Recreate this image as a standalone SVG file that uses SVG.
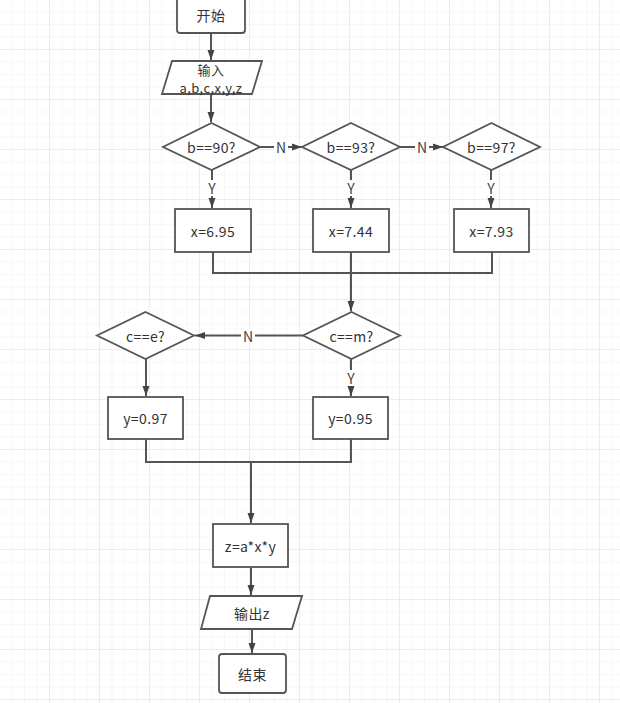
<svg xmlns="http://www.w3.org/2000/svg" width="620" height="703" viewBox="0 0 620 703">
<defs>
<pattern id="minor" width="12.5" height="12.5" patternUnits="userSpaceOnUse">
<path d="M12.5 0V12.5M0 12.5H12.5" fill="none" stroke="#efefef" stroke-width="1"/>
</pattern>
<pattern id="major" width="50" height="50" patternUnits="userSpaceOnUse">
<rect width="50" height="50" fill="url(#minor)"/>
<path d="M50 0V50M0 50H50" fill="none" stroke="#e2e2e2" stroke-width="1"/>
</pattern>
<marker id="arrh" viewBox="0 0 10 10" refX="10" refY="5" markerWidth="10" markerHeight="10" orient="auto" markerUnits="userSpaceOnUse">
<path d="M0 1.5L10 5L0 8.5Z" fill="#444"/>
</marker>
</defs>
<style>
.shape{fill:#fff;stroke:#555;stroke-width:1.8}
.t{font-family:"Noto Sans CJK SC","Liberation Sans",sans-serif;font-size:14px;fill:#333;text-anchor:middle;dominant-baseline:central;letter-spacing:0.4px}
.s{font-size:13px}
.c{fill:none;stroke:#555;stroke-width:2}
.lbl{font-family:"Noto Sans CJK SC","Liberation Sans",sans-serif;font-size:14px;fill:#444;text-anchor:middle;dominant-baseline:central}
.lb{fill:#fff}
</style>
<rect width="620" height="703" fill="#fff"/>
<rect width="620" height="703" fill="url(#major)"/>

<g id="connectors">
<path class="c" d="M211 34V60" marker-end="url(#arrh)"/>
<path class="c" d="M211 94V122" marker-end="url(#arrh)"/>
<path class="c" d="M260 147H302" marker-end="url(#arrh)"/>
<path class="c" d="M400 147H443" marker-end="url(#arrh)"/>
<path class="c" d="M212 170V208" marker-end="url(#arrh)"/>
<path class="c" d="M351 170V208" marker-end="url(#arrh)"/>
<path class="c" d="M491 170V208" marker-end="url(#arrh)"/>
<path class="c" d="M213 252V273H492V252"/>
<path class="c" d="M351 252V311" marker-end="url(#arrh)"/>
<path class="c" d="M303 335.5H195" marker-end="url(#arrh)"/>
<path class="c" d="M351 359V396" marker-end="url(#arrh)"/>
<path class="c" d="M146 359V396" marker-end="url(#arrh)"/>
<path class="c" d="M146 439V462H351V439"/>
<path class="c" d="M251 462V523" marker-end="url(#arrh)"/>
<path class="c" d="M251 567V595" marker-end="url(#arrh)"/>
<path class="c" d="M252 629V653" marker-end="url(#arrh)"/>
<g>
<rect class="lb" x="274" y="139" width="14" height="16"/>
<text class="lbl" x="281" y="147">N</text>
<rect class="lb" x="415" y="139" width="14" height="16"/>
<text class="lbl" x="422" y="147">N</text>
<rect class="lb" x="205" y="180" width="14" height="16"/>
<text class="lbl" x="212" y="188">Y</text>
<rect class="lb" x="344" y="180" width="14" height="16"/>
<text class="lbl" x="351" y="188">Y</text>
<rect class="lb" x="484" y="180" width="14" height="16"/>
<text class="lbl" x="491" y="188">Y</text>
<rect class="lb" x="241" y="327.5" width="14" height="16"/>
<text class="lbl" x="248" y="335.5">N</text>
<rect class="lb" x="344" y="370" width="14" height="16"/>
<text class="lbl" x="351" y="378">Y</text>
</g>
</g>

<g id="start"><rect class="shape" x="177" y="-6" width="68" height="39" rx="3"/><text class="t" x="211" y="15">开始</text></g>
<g id="input"><path class="shape" d="M172 61H262L252 94H162Z"/><text class="t s" x="211" y="69">输入</text><text class="t s" x="211" y="87.5">a,b,c,x,y,z</text></g>
<g id="d1"><path class="shape" d="M211.5 123L260 147L211.5 170L163 147Z"/><text class="t" x="211.5" y="147">b==90?</text></g>
<g id="d2"><path class="shape" d="M351 123L400 147L351 170L302 147Z"/><text class="t" x="351" y="147">b==93?</text></g>
<g id="d3"><path class="shape" d="M491.5 123L540 147L491.5 170L443 147Z"/><text class="t" x="491.5" y="147">b==97?</text></g>
<g id="x1"><rect class="shape" x="175" y="209" width="76" height="43"/><text class="t" x="213" y="231">x=6.95</text></g>
<g id="x2"><rect class="shape" x="313" y="209" width="76" height="43"/><text class="t" x="351" y="231">x=7.44</text></g>
<g id="x3"><rect class="shape" x="454" y="209" width="75" height="43"/><text class="t" x="491.5" y="231">x=7.93</text></g>
<g id="d4"><path class="shape" d="M351.5 312L400 335.5L351.5 359L303 335.5Z"/><text class="t" x="351.5" y="335.5">c==m?</text></g>
<g id="d5"><path class="shape" d="M145.5 312L194 335.5L145.5 359L97 335.5Z"/><text class="t" x="145.5" y="335.5">c==e?</text></g>
<g id="y1"><rect class="shape" x="108" y="397" width="75" height="42"/><text class="t" x="145.5" y="418">y=0.97</text></g>
<g id="y2"><rect class="shape" x="313" y="397" width="75" height="42"/><text class="t" x="350.5" y="418">y=0.95</text></g>
<g id="z"><rect class="shape" x="213" y="524" width="75" height="43"/><text class="t" x="250.5" y="546">z=a*x*y</text></g>
<g id="output"><path class="shape" d="M210 596H302L292 629H201Z"/><text class="t" x="252" y="612.5">输出z</text></g>
<g id="end"><rect class="shape" x="219" y="654" width="67" height="39" rx="3"/><text class="t" x="252.5" y="673.5">结束</text></g>
</svg>
